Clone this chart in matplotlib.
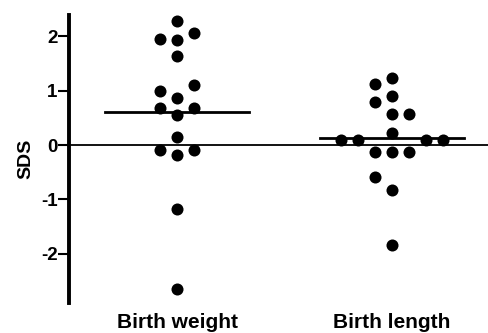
import numpy as np
import matplotlib
matplotlib.use("Agg")
from matplotlib import pyplot as plt

plt.rcParams['font.family'] = ['Liberation Sans', 'DejaVu Sans']
plt.rcParams['font.weight'] = 'bold'

groups = ["Birth weight", "Birth length"]

# SDS values per group, with the column slot each dot sits in (scatter layout)
weight_sds = [2.28, 1.95, 1.93, 2.05, 1.63, 1.00, 1.10, 0.87, 0.68, 0.55, 0.68,
              0.15, -0.10, -0.18, -0.10, -1.17, -2.64]
weight_slot = [0, -1, 0, 1, 0, -1, 1, 0, -1, 0, 1, 0, -1, 0, 1, 0, 0]
length_sds = [1.13, 1.24, 0.79, 0.90, 0.57, 0.57, 0.23, 0.10, 0.10, 0.10, 0.10,
              -0.13, -0.13, -0.13, -0.58, -0.82, -1.84]
length_slot = [-1, 0, -1, 0, 0, 1, 0, -3, -2, 2, 3, -1, 0, 1, -1, 0, 0]
means = [0.61, 0.12]

yticks = [-2, -1, 0, 1, 2]

fig = plt.figure(figsize=(4.88, 3.33), dpi=100)
ax = fig.add_axes([0.142, 0.089, 0.858, 0.866])

step = 0.079
for i, (vals, slots) in enumerate([(weight_sds, weight_slot), (length_sds, length_slot)]):
    xs = i + 1 + np.array(slots) * step
    ax.scatter(xs, vals, s=75, color="black", zorder=3, linewidths=0)
    ax.plot([i + 1 - 0.335, i + 1 + 0.335], [means[i], means[i]], color="black", lw=2, zorder=2)

ax.axhline(0, color="black", lw=1.3, zorder=1)

ax.set_xlim(0.498, 2.449)
ax.set_ylim(-2.91, 2.39)
ax.set_yticks(yticks)
ax.set_yticklabels([str(t) for t in yticks], fontsize=13.5, fontweight="bold")
ax.set_xticks([])
for i, g in enumerate(groups):
    ax.text(i + 1, -3.08, g, ha="center", va="top", fontsize=15, fontweight="bold")

for side in ["top", "right", "bottom"]:
    ax.spines[side].set_visible(False)
ax.spines["left"].set_linewidth(2.8)
ax.tick_params(axis="y", direction="out", length=8, width=1.5, pad=0.5)
ax.set_ylabel("SDS", fontsize=14, fontweight="bold", labelpad=5)

fig.savefig("out.png", dpi=100)
